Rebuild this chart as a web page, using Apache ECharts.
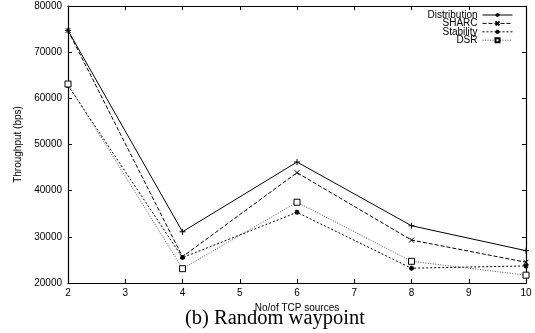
<!DOCTYPE html>
<html>
<head>
<meta charset="utf-8">
<script src="https://cdn.jsdelivr.net/npm/echarts@6/dist/echarts.min.js"></script>
<style>
  html, body { margin: 0; padding: 0; background: #fff; }
  #chart { width: 535px; height: 333px; }
</style>
</head>
<body>
<div id="chart"></div>
<script>
// Number of TCP sources on the x axis
const sources = [2, 4, 6, 8, 10];

// Throughput (bps) per protocol
const distribution = [74700, 31100, 46200, 32400, 27000];
const sharc        = [74700, 25700, 43900, 29300, 24500];
const stability    = [62800, 25500, 35300, 23200, 23700];
const dsr          = [63100, 23100, 37500, 24700, 21700];

const seriesNames = ['Distribution', 'SHARC', 'Stability', 'DSR'];

const yTicks = { min: 20000, max: 80000, step: 10000 };
const xTicks = { min: 2, max: 10, step: 1 };

const pair = (ys) => sources.map((x, i) => [x, ys[i]]);

const plusPath = 'path://M0,5L10,5M5,0L5,10';
const crossPath = 'path://M0,0L10,10M10,0L0,10';
const starPath = 'path://M0,5L10,5M5,0L5,10M1.5,1.5L8.5,8.5M8.5,1.5L1.5,8.5';

const font = 'Liberation Sans, Arial, sans-serif';

const baseAxis = {
  axisLine: { show: true, lineStyle: { color: '#000', width: 1.2 } },
  axisTick: { show: true, inside: true, length: 4, lineStyle: { color: '#000', width: 1 } },
  splitLine: { show: false }
};

const chart = echarts.init(document.getElementById('chart'), null, { renderer: 'canvas' });

chart.setOption({
  animation: false,
  backgroundColor: '#fff',
  title: {
    text: '(b) Random waypoint',
    left: 180,
    top: 303,
    textStyle: { fontFamily: 'Liberation Serif, Times New Roman, serif', fontWeight: 'normal', fontSize: 20.5, color: '#000' }
  },
  grid: { left: 68, right: 9, top: 6, bottom: 50 },
  legend: {
    orient: 'vertical',
    right: 17,
    top: 5,
    align: 'right',
    itemWidth: 30,
    itemHeight: 5,
    itemGap: -1.6,
    data: seriesNames,
    lineStyle: { width: 1 },
    textStyle: { fontFamily: font, fontSize: 10, color: '#000', lineHeight: 8, padding: [0, 0, 0, 0] }
  },
  xAxis: [
    Object.assign({}, baseAxis, {
      type: 'value', position: 'bottom',
      min: xTicks.min, max: xTicks.max, interval: xTicks.step,
      name: 'No/of TCP sources', nameLocation: 'middle', nameGap: 13,
      nameTextStyle: { fontFamily: font, fontSize: 10, color: '#000' },
      axisLabel: { fontFamily: font, fontSize: 10, color: '#000', margin: 5 }
    }),
    Object.assign({}, baseAxis, {
      type: 'value', position: 'top',
      min: xTicks.min, max: xTicks.max, interval: xTicks.step,
      axisLabel: { show: false }
    })
  ],
  yAxis: [
    Object.assign({}, baseAxis, {
      type: 'value', position: 'left',
      min: yTicks.min, max: yTicks.max, interval: yTicks.step,
      name: 'Throughput (bps)', nameLocation: 'middle', nameGap: 45,
      nameTextStyle: { fontFamily: font, fontSize: 10, color: '#000' },
      axisLabel: { fontFamily: font, fontSize: 10, color: '#000', margin: 6, formatter: (v) => String(v) }
    }),
    Object.assign({}, baseAxis, {
      type: 'value', position: 'right',
      min: yTicks.min, max: yTicks.max, interval: yTicks.step,
      axisLabel: { show: false }
    })
  ],
  series: [
    {
      name: 'Distribution', type: 'line', data: pair(distribution),
      symbol: plusPath, symbolSize: 6,
      itemStyle: { color: '#000', borderColor: '#000', borderWidth: 1 },
      lineStyle: { color: '#000', width: 1, type: 'solid' }
    },
    {
      name: 'SHARC', type: 'line', data: pair(sharc),
      symbol: crossPath, symbolSize: 5,
      itemStyle: { color: '#000', borderColor: '#000', borderWidth: 1 },
      lineStyle: { color: '#000', width: 1, type: [4, 2] }
    },
    {
      name: 'Stability', type: 'line', data: pair(stability),
      symbol: starPath, symbolSize: 5,
      itemStyle: { color: '#000', borderColor: '#000', borderWidth: 1.4 },
      lineStyle: { color: '#000', width: 1, type: [2, 2] }
    },
    {
      name: 'DSR', type: 'line', data: pair(dsr),
      symbol: 'rect', symbolSize: 6,
      itemStyle: { color: '#fff', borderColor: '#000', borderWidth: 1 },
      lineStyle: { color: '#555', width: 1, type: [1, 1.5] }
    }
  ]
});
</script>
</body>
</html>
